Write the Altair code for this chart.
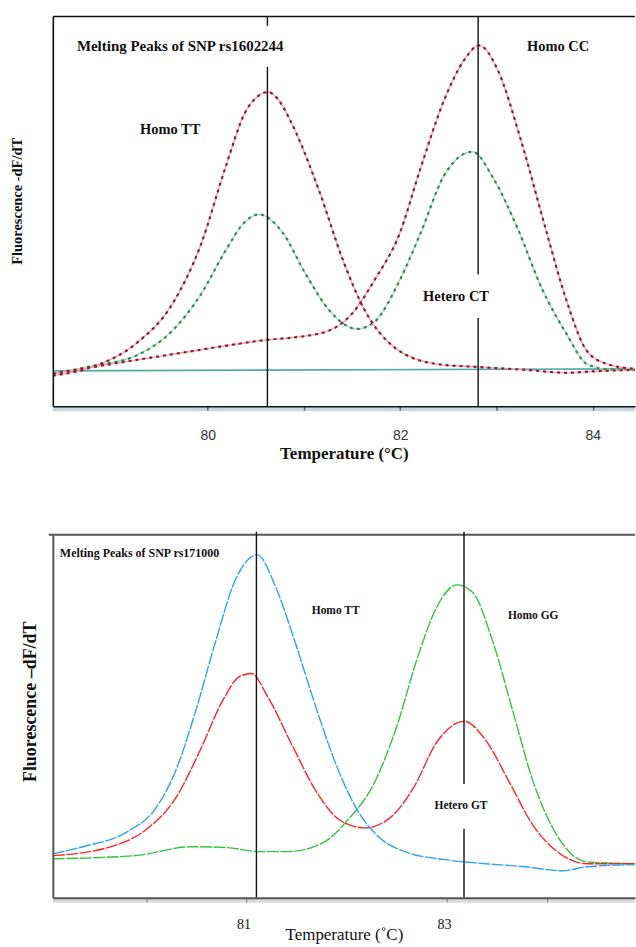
import altair as alt
import pandas as pd

# ---------------- Panel 1: SNP rs1602244 ----------------
p1_temp_homo_tt = [78.39, 78.8, 79.25, 79.63, 79.93, 80.18, 80.39, 80.52, 80.63, 80.74, 80.85,
                   81.15, 81.41, 81.62, 81.95, 82.38, 82.8, 83.3, 83.73, 83.98, 84.44]
p1_val_homo_tt = [-0.018, 0.009, 0.080, 0.202, 0.387, 0.620, 0.794, 0.843, 0.856, 0.830, 0.773,
                  0.558, 0.334, 0.190, 0.067, 0.018, 0.009, 0.0, -0.009, -0.005, 0.0]

p1_temp_homo_cc = [78.39, 79.08, 79.63, 80.52, 81.19, 81.49, 81.74, 81.99, 82.21, 82.46, 82.67,
                   82.82, 83.01, 83.26, 83.51, 83.73, 83.94, 84.15, 84.44]
p1_val_homo_cc = [-0.012, 0.022, 0.048, 0.089, 0.114, 0.170, 0.280, 0.417, 0.620, 0.834, 0.957,
                  1.0, 0.926, 0.702, 0.436, 0.212, 0.058, 0.018, 0.003]

p1_temp_hetero_ct = [78.39, 78.8, 79.25, 79.63, 79.93, 80.18, 80.39, 80.53, 80.77, 81.02, 81.27,
                     81.55, 81.74, 81.99, 82.21, 82.46, 82.75, 82.97, 83.22, 83.47, 83.73, 83.94,
                     84.2, 84.44]
p1_val_hetero_ct = [-0.012, 0.012, 0.043, 0.120, 0.233, 0.365, 0.457, 0.479, 0.426, 0.294, 0.181,
                    0.126, 0.150, 0.273, 0.420, 0.601, 0.672, 0.589, 0.436, 0.252, 0.110, 0.018,
                    0.0, 0.0]

p1_temp_blank = [78.39, 84.44]
p1_val_blank = [-0.003, 0.003]

p1_guide_temp = [80.62, 80.62, 82.81, 82.81]
p1_guide_from = [-0.112, 1.060, -0.112, 0.294]
p1_guide_to = [0.933, 1.089, 0.160, 1.089]

p1_title = "Melting Peaks of SNP rs1602244"
p1_labels = ["Homo TT", "Homo CC", "Hetero CT"]
p1_label_temp = [79.61, 83.64, 82.58]
p1_label_val = [0.739, 0.994, 0.224]

# ---------------- Panel 2: SNP rs171000 ----------------
p2_temp_homo_tt = [79.07, 79.37, 79.81, 80.09, 80.29, 80.49, 80.69, 80.89, 81.11, 81.29, 81.5,
                   81.69, 81.9, 82.1, 82.34, 82.58, 82.98, 83.38, 83.78, 84.15, 84.39, 84.875]
p2_val_homo_tt = [0.032, 0.055, 0.103, 0.177, 0.297, 0.490, 0.716, 0.919, 1.0, 0.897, 0.703,
                  0.510, 0.316, 0.177, 0.081, 0.039, 0.013, 0.0, -0.010, -0.023, -0.010, -0.003]

p2_temp_hetero_gt = [79.07, 79.65, 80.01, 80.29, 80.53, 80.77, 80.93, 81.05, 81.21, 81.46, 81.7,
                     81.94, 82.18, 82.42, 82.66, 82.9, 83.17, 83.38, 83.62, 83.86, 84.1, 84.39,
                     84.875]
p2_val_hetero_gt = [0.026, 0.055, 0.113, 0.210, 0.361, 0.532, 0.606, 0.616, 0.542, 0.381, 0.232,
                    0.139, 0.116, 0.145, 0.242, 0.394, 0.461, 0.403, 0.265, 0.123, 0.039, 0.0,
                    0.0]

p2_temp_homo_gg = [79.07, 79.89, 80.45, 80.81, 81.13, 81.42, 81.78, 82.02, 82.26, 82.5, 82.7,
                   82.9, 83.1, 83.26, 83.46, 83.66, 83.86, 84.1, 84.39, 84.875]
p2_val_homo_gg = [0.016, 0.026, 0.055, 0.052, 0.039, 0.039, 0.071, 0.145, 0.252, 0.445, 0.661,
                  0.832, 0.903, 0.877, 0.716, 0.490, 0.265, 0.090, 0.006, 0.0]

p2_guide_temp = [81.10, 83.17, 83.17]
p2_guide_from = [-0.110, -0.110, 0.258]
p2_guide_to = [1.075, 0.113, 1.075]

p2_title = "Melting Peaks of SNP rs171000"
p2_labels = ["Homo TT", "Homo GG", "Hetero GT"]
p2_label_temp = [81.89, 83.86, 83.14]
p2_label_val = [0.819, 0.803, 0.187]

SERIF = "Liberation Serif"
SANS = "Liberation Sans"


def series(temps, vals):
    return pd.DataFrame({"t": temps, "v": vals})


def panel(width, height, x_enc, y_enc, curves, guides, title_row, labels,
          frame_color, frame_width, band_color, label_size):
    layers = []
    # light band under the temperature axis
    layers.append(
        alt.Chart(pd.DataFrame({"k": [0]})).mark_rect(color=band_color).encode(
            x=alt.value(0), x2=alt.value(width),
            y=alt.value(height + 1), y2=alt.value(height + 5))
    )
    # upper frame edge
    layers.append(
        alt.Chart(pd.DataFrame({"k": [0]})).mark_rule(
            color=frame_color, strokeWidth=frame_width).encode(
            x=alt.value(-4 if frame_width > 1.6 else 0), x2=alt.value(width), y=alt.value(0))
    )
    for df, style in curves:
        layers.append(
            alt.Chart(df).mark_line(interpolate="monotone", clip=True, **style).encode(
                x=x_enc, y=y_enc)
        )
    layers.append(
        alt.Chart(guides).mark_rule(color="#111111", strokeWidth=1.4).encode(
            x=x_enc, y=y_enc, y2="v2:Q")
    )
    layers.append(
        alt.Chart(title_row).mark_text(
            align="left", baseline="middle", font=SERIF, fontWeight="bold",
            fontSize=label_size[0], color="#111111").encode(x=x_enc, y=y_enc, text="text:N")
    )
    layers.append(
        alt.Chart(labels).mark_text(
            align="center", baseline="middle", font=SERIF, fontWeight="bold",
            fontSize=label_size[1], color="#111111").encode(x=x_enc, y=y_enc, text="text:N")
    )
    return alt.layer(*layers).properties(width=width, height=height)


W = 584
H1 = 391
H2 = 364

# ---- panel 1 scales and axes ----
x1 = alt.X(
    "t:Q",
    title="Temperature (°C)",
    scale=alt.Scale(domain=[78.39, 84.44], nice=False, zero=False),
    axis=alt.Axis(
        values=[80, 81, 82, 83, 84],
        labelExpr="datum.value % 2 == 0 ? datum.label : ''",
        format="d", grid=False, labelOverlap=False, labelFlush=False,
        domainColor="#111111", domainWidth=1.6,
        tickColor="#666666", tickWidth=1.5, tickSize=4,
        labelFont=SANS, labelFontSize=14, labelColor="#333333",
        labelBaseline="middle", labelPadding=25.5,
        titleFont=SERIF, titleFontWeight="bold", titleFontSize=17, titleColor="#111111",
        titleBaseline="middle", titleY=47, zindex=1,
    ),
)
y1 = alt.Y(
    "v:Q",
    title="Fluorescence -dF/dT",
    scale=alt.Scale(domain=[-0.112, 1.089], nice=False, zero=False),
    axis=alt.Axis(
        labels=False, ticks=False, grid=False,
        domainColor="#111111", domainWidth=1.6,
        titleFont=SERIF, titleFontWeight="bold", titleFontSize=14.5, titleColor="#111111",
        titleBaseline="middle", titleX=-35, titleY=185, zindex=1,
    ),
)

red_under = dict(color="#e9a3ab", strokeWidth=1.3)
red_over = dict(color="#8e1b2e", strokeWidth=2.2, strokeDash=[3, 4])
green_under = dict(color="#a9dbb6", strokeWidth=1.3)
green_over = dict(color="#2f8a57", strokeWidth=2.2, strokeDash=[3, 4])

p1_tt = series(p1_temp_homo_tt, p1_val_homo_tt)
p1_cc = series(p1_temp_homo_cc, p1_val_homo_cc)
p1_ct = series(p1_temp_hetero_ct, p1_val_hetero_ct)
p1_bl = series(p1_temp_blank, p1_val_blank)

p1_curves = [
    (p1_bl, dict(color="#4fa9ad", strokeWidth=1.6)),
    (p1_ct, green_under), (p1_ct, green_over),
    (p1_tt, red_under), (p1_tt, red_over),
    (p1_cc, red_under), (p1_cc, red_over),
]
p1_guides = pd.DataFrame({"t": p1_guide_temp, "v": p1_guide_from, "v2": p1_guide_to})
p1_title_row = pd.DataFrame({"t": [78.64], "v": [0.997], "text": [p1_title]})
p1_label_df = pd.DataFrame({"t": p1_label_temp, "v": p1_label_val, "text": p1_labels})

top = panel(W, H1, x1, y1, p1_curves, p1_guides, p1_title_row, p1_label_df,
            "#111111", 1.4, "#cbd4df", (15, 14.5))

# ---- panel 2 scales and axes ----
x2 = alt.X(
    "t:Q",
    title="Temperature (˚C)",
    scale=alt.Scale(domain=[79.07, 84.875], nice=False, zero=False),
    axis=alt.Axis(
        values=[80, 81, 83, 84],
        labelExpr="datum.value == 81 || datum.value == 83 ? datum.label : ''",
        format="d", grid=False, labelOverlap=False, labelFlush=False,
        domainColor="#555555", domainWidth=2,
        tickColor="#777777", tickWidth=1, tickSize=4,
        labelFont=SERIF, labelFontSize=14, labelColor="#111111",
        labelBaseline="middle", labelPadding=23, labelOffset=-3,
        titleFont=SERIF, titleFontWeight="normal", titleFontSize=17, titleColor="#111111",
        titleBaseline="middle", titleY=37, zindex=1,
    ),
)
y2 = alt.Y(
    "v:Q",
    title="Fluorescence –dF/dT",
    scale=alt.Scale(domain=[-0.110, 1.065], nice=False, zero=False),
    axis=alt.Axis(
        labels=False, ticks=False, grid=False,
        domainColor="#555555", domainWidth=2,
        titleFont=SERIF, titleFontWeight="bold", titleFontSize=18, titleColor="#111111",
        titleBaseline="middle", titleX=-22, titleY=167, zindex=1,
    ),
)

p2_tt = series(p2_temp_homo_tt, p2_val_homo_tt)
p2_gt = series(p2_temp_hetero_gt, p2_val_hetero_gt)
p2_gg = series(p2_temp_homo_gg, p2_val_homo_gg)

p2_curves = [
    (p2_gg, dict(color="#33c341", strokeWidth=1.4, strokeDash=[12, 1.5])),
    (p2_gt, dict(color="#ff2424", strokeWidth=1.4, strokeDash=[12, 1.5])),
    (p2_tt, dict(color="#2ea2f2", strokeWidth=1.4, strokeDash=[12, 1.5])),
]
p2_guides = pd.DataFrame({"t": p2_guide_temp, "v": p2_guide_from, "v2": p2_guide_to})
p2_title_row = pd.DataFrame({"t": [79.14], "v": [1.006], "text": [p2_title]})
p2_label_df = pd.DataFrame({"t": p2_label_temp, "v": p2_label_val, "text": p2_labels})

bottom = panel(W, H2, x2, y2, p2_curves, p2_guides, p2_title_row, p2_label_df,
               "#555555", 2, "#dadada", (12, 11.5))

chart = (
    alt.vconcat(top, bottom, spacing=70)
    .resolve_scale(x="independent", y="independent")
    .configure_view(stroke=None)
    .properties(background="white",
                padding={"left": 10, "top": 14, "right": 0, "bottom": 0})
)

chart.save("out.html", embed_options={"renderer": "svg", "actions": False})
